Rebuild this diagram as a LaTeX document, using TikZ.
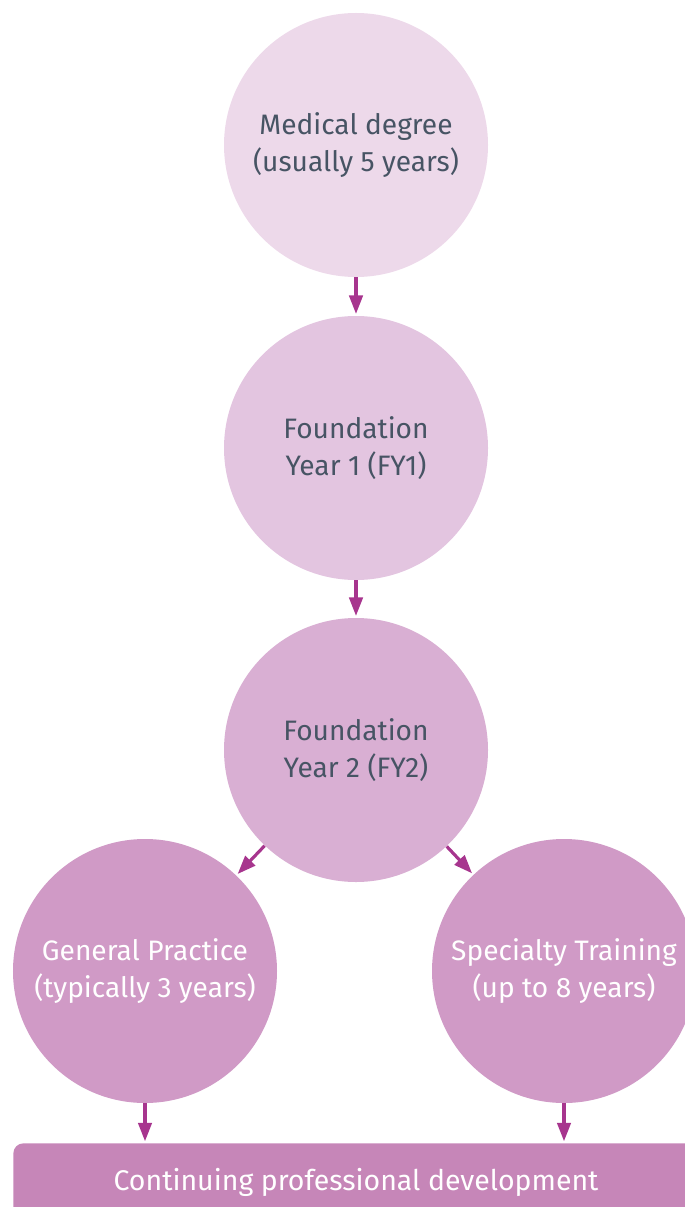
\documentclass[tikz,border=0pt]{standalone}
\usepackage{fontspec}
\setmainfont{Fira Sans}
\usepackage{tikz}
\usetikzlibrary{arrows.meta, positioning}
\definecolor{stageA}{HTML}{EDD9EA}
\definecolor{stageB}{HTML}{E3C5E0}
\definecolor{stageC}{HTML}{D9AFD3}
\definecolor{stageD}{HTML}{D09AC6}
\definecolor{barfill}{HTML}{C686B8}
\definecolor{arrowcol}{HTML}{A7358E}
\definecolor{textcol}{HTML}{475464}
\tikzset{stage/.style={circle, minimum size=5.28cm, inner sep=0pt, align=center, font=\fontsize{16}{21.5}\selectfont, text=textcol},
    flow/.style={draw=arrowcol, line width=1.8pt, -{Triangle[width=0.27cm,length=0.37cm]}, shorten >=1pt}}
\begin{document}
\begin{tikzpicture}
    \useasboundingbox (0,0) rectangle (13.68,-24.14);

    \node[stage, fill=stageA] (med) at (7.12,-2.90) {Medical degree\\(usually 5 years)};
    \node[stage, fill=stageB] (fy1) at (7.12,-8.96) {Foundation\\Year 1 (FY1)};
    \node[stage, fill=stageC] (fy2) at (7.12,-15.00) {Foundation\\Year 2 (FY2)};
    \node[stage, fill=stageD, text=white] (gp) at (2.90,-19.42) {General Practice\\(typically 3 years)};
    \node[stage, fill=stageD, text=white] (spec) at (11.28,-19.42) {Specialty Training\\(up to 8 years)};

    \node[fill=barfill, rounded corners=0.2cm, anchor=north west, minimum width=14cm, minimum height=1.8cm] (cpd) at (0.26,-22.86) {};
    \node[font=\fontsize{16.2}{21.5}\selectfont, text=white] (cpdtext) at (7.12,-23.64) {Continuing professional development};

    \draw[flow] (med) -- (fy1);
    \draw[flow] (fy1) -- (fy2);
    \draw[flow] (fy2) -- (gp);
    \draw[flow] (fy2) -- (spec);
    \draw[flow] (gp) -- (gp |- cpd.north);
    \draw[flow] (spec) -- (spec |- cpd.north);
\end{tikzpicture}
\end{document}
